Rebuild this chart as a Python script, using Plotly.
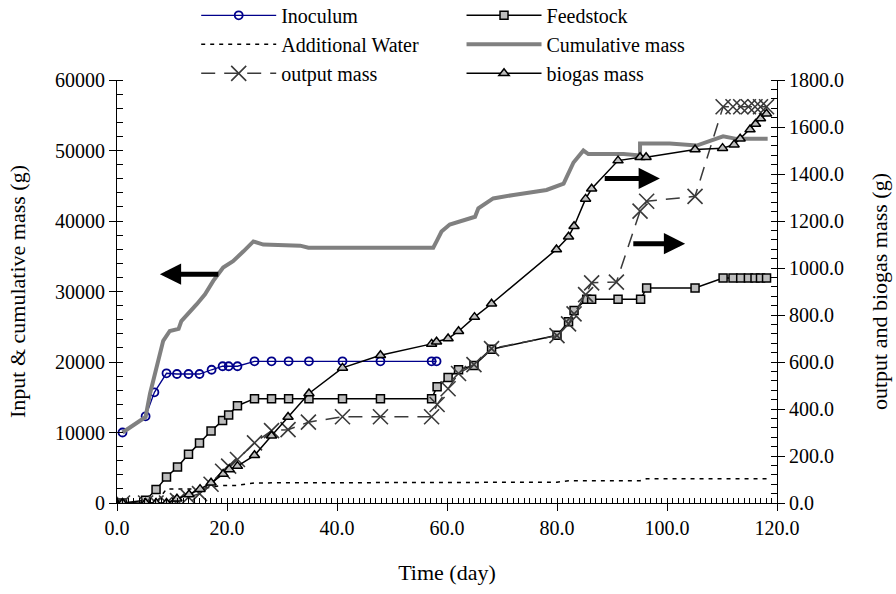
import plotly.graph_objects as go

FONT = "Liberation Serif"

# ---- data ----
days_inoc = [1.0, 5.2, 6.8, 9.0, 10.9, 13.0, 15.0, 17.2, 19.2, 20.3, 21.9, 25.0, 28.1, 31.2, 34.9, 41.0, 47.9, 57.2, 58.1]
inoculum = [10000, 12300, 15700, 18400, 18300, 18300, 18300, 18900, 19400, 19400, 19400, 20100, 20100, 20100, 20100, 20100, 20100, 20100, 20100]

days_feed = [1.0, 5.2, 7.1, 9.0, 11.0, 13.0, 15.0, 17.1, 19.2, 20.3, 21.9, 25.0, 28.1, 31.2, 34.9, 41.0, 47.9, 57.2, 58.2, 60.2,
             62.1, 64.9, 68.1, 80.0, 82.1, 83.1, 85.4, 86.3, 91.1, 95.2, 96.3, 105.1, 110.2, 112.0, 113.4, 114.8, 116.0, 117.0, 118.1]
feedstock = [0, 400, 1900, 3700, 5100, 6900, 8500, 10200, 11700, 12500, 13800, 14800, 14800, 14800, 14800, 14800, 14800, 14800, 16500, 17800,
             18900, 19500, 21800, 23800, 25700, 27300, 28900, 28900, 28900, 28900, 30500, 30500, 31900, 31900, 31900, 31900, 31900, 31900, 31900]

days_water = [1.0, 5.2, 7.1, 9.0, 15.0, 19.2, 21.9, 25.0, 58.1, 62.1, 80.0, 82.1, 95.1, 96.3, 118.1]
water = [0, 0, 0, 2000, 2000, 2500, 2500, 2850, 2850, 2950, 2950, 3150, 3150, 3450, 3450]

days_cum = [1.0, 5.2, 6.0, 7.5, 8.4, 9.6, 11.2, 11.7, 12.9, 14.5, 16.0, 17.5, 19.3, 21.1, 23.0, 24.8, 26.6, 31.5, 33.3, 34.8,
            57.5, 58.1, 59.0, 60.5, 65.1, 65.7, 68.4, 72.1, 78.1, 81.2, 83.0, 84.8, 85.7, 92.1, 95.1, 95.1, 100.5, 105.4, 110.2, 112.6, 118.3]
cumulative = [10000, 12200, 15500, 20200, 23000, 24400, 24700, 25800, 26800, 28200, 29600, 31500, 33400, 34300, 35700, 37100, 36650, 36500, 36500, 36200,
              36200, 37100, 38500, 39500, 40600, 41800, 43200, 43700, 44400, 45300, 48300, 50000, 49500, 49500, 49300, 51000, 51000, 50700, 52000, 51650, 51650]

days_out = [1.0, 5.2, 7.1, 9.0, 11.0, 13.0, 15.0, 17.1, 19.2, 20.3, 21.9, 25.0, 28.1, 31.1, 34.8, 41.0, 47.9, 57.2, 58.2, 60.2,
            62.1, 64.9, 68.1, 80.0, 82.1, 83.1, 85.2, 86.3, 90.8, 95.1, 96.3, 105.1, 110.2, 112.0, 113.4, 114.8, 116.0, 117.0, 118.1]
output_mass = [0, 0, 0, 0, 10, 25, 40, 80, 135, 157, 185, 256, 308, 312, 344, 367, 367, 367, 419, 486,
               551, 589, 657, 712, 762, 805, 887, 937, 940, 1242, 1284, 1305, 1686, 1686, 1686, 1686, 1686, 1686, 1686]

days_bio = [1.0, 5.2, 7.1, 9.0, 10.9, 13.1, 15.1, 17.1, 19.3, 20.4, 21.9, 25.0, 28.1, 31.1, 34.9, 41.0, 47.9, 57.2, 58.1, 60.2,
            62.1, 65.0, 68.1, 79.9, 82.1, 83.1, 85.2, 86.3, 91.1, 95.1, 96.2, 105.1, 110.1, 112.2, 113.3, 115.1, 116.1, 117.0, 118.1]
biogas = [0, 0, 0, 0, 18, 36, 59, 86, 123, 143, 157, 203, 286, 366, 466, 575, 629, 677, 686, 700,
          731, 791, 848, 1079, 1133, 1178, 1294, 1337, 1457, 1471, 1471, 1504, 1510, 1525, 1550, 1589, 1613, 1636, 1656]

# arrows: (head_x, tail_x, y on left axis)
arrows = [(7.8, 18.7, 32460), (98.7, 88.4, 46030), (103.3, 93.6, 36790)]

fig = go.Figure()

fig.add_trace(go.Scatter(x=days_inoc, y=inoculum, name="Inoculum", mode="lines+markers", legend="legend",
                         line=dict(color="#00008B", width=1.3),
                         marker=dict(symbol="circle-open", size=8, color="#00008B", line=dict(width=1.8))))
fig.add_trace(go.Scatter(x=days_feed, y=feedstock, name="Feedstock", mode="lines+markers", legend="legend2",
                         line=dict(color="black", width=1.5),
                         marker=dict(symbol="square", size=8, color="#BDBDBD", line=dict(color="black", width=1.5))))
fig.add_trace(go.Scatter(x=days_water, y=water, name="Additional Water", mode="lines", legend="legend",
                         line=dict(color="black", width=1.5, dash="4px,5px")))
fig.add_trace(go.Scatter(x=days_cum, y=cumulative, name="Cumulative mass", mode="lines", legend="legend2",
                         line=dict(color="#808080", width=4)))
fig.add_trace(go.Scatter(x=days_out, y=output_mass, name="output mass", mode="lines+markers", yaxis="y2", legend="legend",
                         line=dict(color="#3A3A3A", width=1.5, dash="14px,9px"),
                         marker=dict(symbol="x-thin-open", size=15, color="#3A3A3A", line=dict(width=1.6, color="#3A3A3A"))))
fig.add_trace(go.Scatter(x=days_bio, y=biogas, name="biogas mass", mode="lines+markers", yaxis="y2", legend="legend2",
                         line=dict(color="black", width=1.5),
                         marker=dict(symbol="triangle-up", size=9, color="#BDBDBD", line=dict(color="black", width=1.5))))

for hx, tx, yy in arrows:
    fig.add_annotation(x=hx, y=yy, ax=tx, ay=yy, xref="x", yref="y", axref="x", ayref="y",
                       text="", showarrow=True, arrowhead=2, arrowwidth=5, arrowsize=0.85, arrowcolor="black")

axis_common = dict(showline=True, linecolor="black", linewidth=1, showgrid=False, zeroline=False,
                   ticks="outside", ticklen=7, tickcolor="black", tickwidth=1,
                   tickfont=dict(family=FONT, size=20, color="black"))

legend_common = dict(orientation="v", y=1.199, yanchor="top", itemwidth=75,
                     font=dict(family=FONT, size=20, color="black"), bgcolor="rgba(0,0,0,0)",
                     tracegroupgap=0)

fig.update_layout(
    width=896, height=594,
    margin=dict(l=117, r=119, t=80, b=91, autoexpand=False),
    plot_bgcolor="white", paper_bgcolor="white",
    font=dict(family=FONT, size=20, color="black"),
    xaxis=dict(range=[0, 120], dtick=20, tickformat=".1f",
               minor=dict(ticks="inside", dtick=1, ticklen=5, tickcolor="black"),
               title=dict(text="Time (day)", font=dict(family=FONT, size=22), standoff=26),
               **axis_common),
    yaxis=dict(range=[0, 60000], dtick=10000, tickformat="d",
               minor=dict(ticks="inside", dtick=2000, ticklen=6, tickcolor="black"),
               title=dict(text="Input & cumulative mass (g)", font=dict(family=FONT, size=22), standoff=23),
               **axis_common),
    yaxis2=dict(range=[0, 1800], dtick=200, tickformat=".1f", overlaying="y", side="right", anchor="x",
                minor=dict(ticks="inside", dtick=40, ticklen=6, tickcolor="black"),
                title=dict(text="output and biogas mass (g)", font=dict(family=FONT, size=22), standoff=28),
                **axis_common),
    xaxis3=dict(range=[0, 120], dtick=20, overlaying="x", anchor="y", ticks="inside", ticklen=6,
                tickcolor="black", showticklabels=False, showline=False, showgrid=False, zeroline=False),
    yaxis3=dict(range=[0, 60000], dtick=10000, overlaying="y", side="left", anchor="x", ticks="inside", ticklen=7,
                tickcolor="black", showticklabels=False, showline=False, showgrid=False, zeroline=False),
    yaxis4=dict(range=[0, 1800], dtick=200, overlaying="y", side="right", anchor="x", ticks="inside", ticklen=7,
                tickcolor="black", showticklabels=False, showline=False, showgrid=False, zeroline=False),
    legend=dict(x=0.12, xanchor="left", **legend_common),
    legend2=dict(x=0.522, xanchor="left", **legend_common),
    showlegend=True,
)

fig.write_html("out.html")
